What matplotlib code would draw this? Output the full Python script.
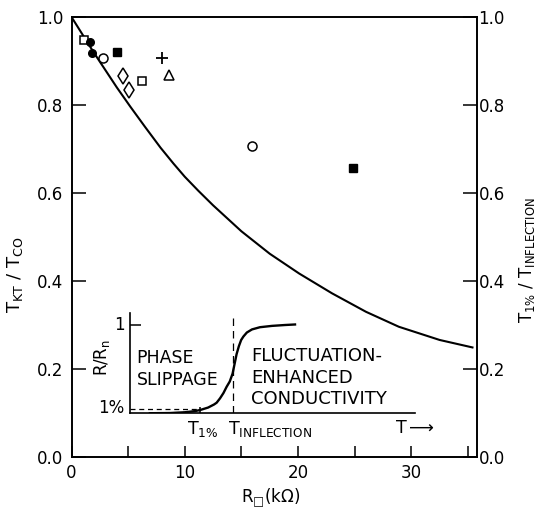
import matplotlib
matplotlib.use("Agg")
import matplotlib.pyplot as plt

plt.rcParams["font.family"] = "DejaVu Sans"
plt.rcParams["mathtext.default"] = "regular"

# theory curve T_KT/T_co vs sheet resistance
curve_r = [0, 2.0, 4.0, 5.2, 6.5, 7.86, 9.0, 10.0, 11.2, 12.5, 15.0, 17.5, 20.1,
           23.0, 26.0, 28.9, 32.5, 35.4]
curve_t = [1.0, 0.918, 0.840, 0.796, 0.750, 0.703, 0.667, 0.637, 0.605, 0.572, 0.513,
           0.462, 0.417, 0.372, 0.330, 0.296, 0.266, 0.249]

# experimental points, one list pair per symbol
open_sq_r = [1.08, 6.23]
open_sq_t = [0.948, 0.855]
fill_circ_r = [1.61, 1.78]
fill_circ_t = [0.944, 0.919]
open_circ_r = [2.76, 15.9]
open_circ_t = [0.906, 0.707]
fill_sq_r = [3.99, 24.85]
fill_sq_t = [0.92, 0.657]
diamond_r = [4.52, 5.11]
diamond_t = [0.866, 0.834]
plus_r = [7.97]
plus_t = [0.906]
tri_r = [8.64]
tri_t = [0.868]

# inset: schematic resistive transition R/Rn vs T (arbitrary units)
inset_T = [7.0, 14.0, 19.3, 22.8, 24.6, 27.4, 29.5, 30.4, 31.6, 32.8, 33.9, 35.0, 36.0,
           36.7, 37.4, 38.2, 39.0, 39.8, 41.0, 42.8, 45.6, 49.8, 54.4, 57.9]
inset_R = [0.001, 0.003, 0.012, 0.025, 0.037, 0.065, 0.10, 0.12, 0.17, 0.23, 0.30, 0.36, 0.45,
           0.56, 0.67, 0.76, 0.83, 0.87, 0.915, 0.950, 0.975, 0.99, 1.0, 1.006]
T_1pct = 24.6
T_infl = 36.0
R_1pct = 0.045

W, H = 537, 512
fig = plt.figure(figsize=(W / 100, H / 100), dpi=100)

L, R, B, T = 71.5, 477, 457, 17
ax = fig.add_axes([L / W, 1 - B / H, (R - L) / W, (B - T) / H])

ax.plot(curve_r, curve_t, color="black", lw=1.5)
mk = dict(color="black", linestyle="none")
ax.plot(open_sq_r, open_sq_t, marker="s", ms=6, mfc="white", mew=1.1, **mk)
ax.plot(fill_circ_r, fill_circ_t, marker="o", ms=5.5, **mk)
ax.plot(open_circ_r, open_circ_t, marker="o", ms=6.5, mfc="white", mew=1.1, **mk)
ax.plot(fill_sq_r, fill_sq_t, marker="s", ms=6, **mk)
ax.plot(diamond_r, diamond_t, marker="d", ms=8, mfc="white", mew=1.1, **mk)
ax.plot(plus_r, plus_t, marker="+", ms=9, mew=1.3, **mk)
ax.plot(tri_r, tri_t, marker="^", ms=7, mfc="white", mew=1.1, **mk)

ax.set_xlim(0, 35.8)
ax.set_ylim(0, 1.0)
ax.set_xticks([0, 5, 10, 15, 20, 25, 30, 35])
ax.set_xticklabels(["0", "", "10", "", "20", "", "30", ""])
ax.set_yticks([0, 0.2, 0.4, 0.6, 0.8, 1.0])
ax.set_yticklabels(["0.0", "0.2", "0.4", "0.6", "0.8", "1.0"])
ax.tick_params(axis="x", direction="in", length=8, width=1.1, labelsize=12, pad=5)
ax.tick_params(axis="y", direction="in", length=10, width=1.1, labelsize=12, pad=6)
for s in ax.spines.values():
    s.set_linewidth(1.2)

ax.set_xlabel("R$_{□}$(k$\\Omega$)", fontsize=12)
ax.xaxis.set_label_coords(0.49, -0.068)
ax.set_ylabel("T$_{KT}$ / T$_{CO}$", fontsize=13)
ax.yaxis.set_label_coords(-0.115, 0.414)

ax2 = ax.twinx()
ax2.set_ylim(0, 1.0)
ax2.set_yticks([0, 0.2, 0.4, 0.6, 0.8, 1.0])
ax2.set_yticklabels(["0.0", "0.2", "0.4", "0.6", "0.8", "1.0"])
ax2.tick_params(axis="y", direction="in", length=10, width=1.1, labelsize=12, pad=1)
ax2.set_ylabel("T$_{1\\%}$ / T$_{INFLECTION}$", fontsize=12, rotation=90)
ax2.yaxis.set_label_coords(1.098, 0.448)
for s in ax2.spines.values():
    s.set_linewidth(1.2)

# inset sketch
iL, iR, iB, iT = 130, 415, 413.3, 313
ins = fig.add_axes([iL / W, 1 - iB / H, (iR - iL) / W, (iB - iT) / H])
ins.set_xlim(0, 100)
ins.set_ylim(0, 1.136)
ins.patch.set_alpha(0)
ins.spines["top"].set_visible(False)
ins.spines["right"].set_visible(False)
for s in ("left", "bottom"):
    ins.spines[s].set_linewidth(1.2)
ins.plot(inset_T, inset_R, color="black", lw=1.7)
ins.plot([0, T_1pct], [R_1pct, R_1pct], color="black", lw=0.9, ls=(0, (4, 3)))
ins.plot([T_infl, T_infl], [0, 1.08], color="black", lw=0.9, ls=(0, (6, 4)))
ins.set_yticks([1.0])
ins.set_yticklabels([])
ins.set_xticks([T_1pct])
ins.set_xticklabels([])
ins.tick_params(axis="y", direction="in", length=8, width=1.1)
ins.tick_params(axis="x", direction="in", length=4, width=1.1)

ins.text(-1.8, 1.0, "1", ha="right", va="center", fontsize=12)
ins.text(-1.8, 0.06, "1%", ha="right", va="center", fontsize=12)
ins.text(-9.8, 0.634, "R/R$_n$", rotation=90, ha="center", va="center", fontsize=12)
ins.text(2.3, 0.50, "PHASE\nSLIPPAGE", ha="left", va="center", fontsize=12.5,
         linespacing=1.3)
ins.text(42.5, 0.40, "FLUCTUATION-\nENHANCED\nCONDUCTIVITY", ha="left", va="center",
         fontsize=13, linespacing=1.25)
ins.text(25.6, -0.07, "T$_{1\\%}$", ha="center", va="top", fontsize=12.5)
ins.text(34.4, -0.07, "T$_{INFLECTION}$", ha="left", va="top", fontsize=12.5)
ins.text(93, -0.07, "T$\\longrightarrow$", ha="left", va="top", fontsize=12.5)

fig.savefig("out.png", dpi=100)
